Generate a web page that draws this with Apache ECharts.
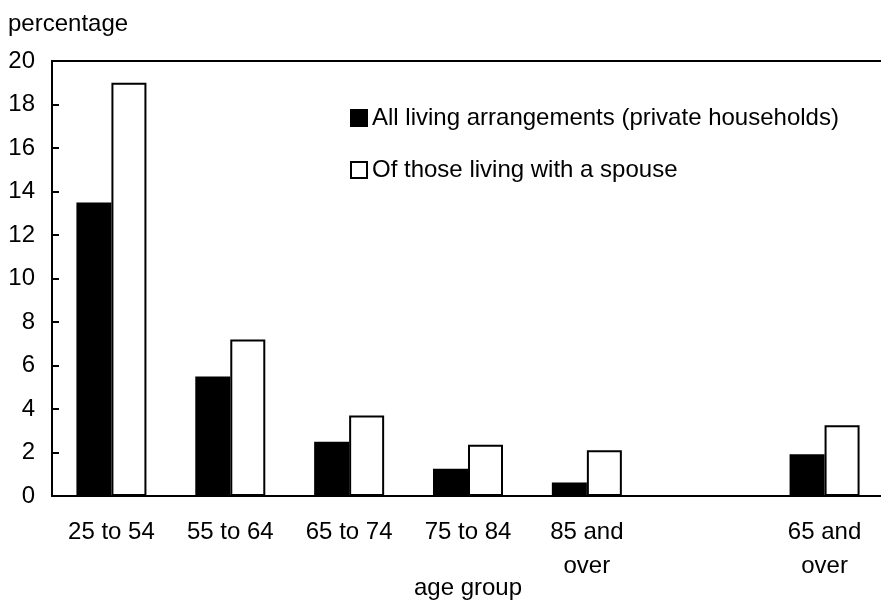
<!DOCTYPE html>
<html>
<head>
<meta charset="utf-8">
<script src="https://cdn.jsdelivr.net/npm/echarts@6/dist/echarts.min.js"></script>
<style>html,body{margin:0;padding:0;background:#fff;}#c{width:881px;height:600px;}</style>
</head>
<body>
<div id="c"></div>
<script>
const categories = ['25 to 54', '55 to 64', '65 to 74', '75 to 84', '85 and\nover', '', '65 and\nover'];
const allLiving = [13.5, 5.5, 2.5, 1.25, 0.62, null, 1.92];
const withSpouse = [19.0, 7.2, 3.7, 2.36, 2.1, null, 3.25];
const yTicks = [0, 2, 4, 6, 8, 10, 12, 14, 16, 18, 20];
const seriesNames = ['All living arrangements (private households)', 'Of those living with a spouse'];

const font = 'Liberation Sans, Arial, sans-serif';
const chart = echarts.init(document.getElementById('c'), null, {renderer: 'canvas'});
chart.setOption({
  animation: false,
  backgroundColor: '#ffffff',
  title: {
    text: 'percentage', left: 8, top: 12, padding: 0,
    textStyle: {fontFamily: font, fontSize: 24, fontWeight: 'normal', color: '#000'}
  },
  legend: {
    orient: 'vertical', left: 350, top: 106, itemGap: 28, padding: 0,
    itemWidth: 16, itemHeight: 16, itemStyle: {borderColor: '#000', borderWidth: 2},
    icon: 'rect',
    textStyle: {fontFamily: font, fontSize: 24, color: '#000'},
    data: seriesNames
  },
  grid: {left: 52, right: -3, top: 61, bottom: 104, containLabel: false, outerBoundsMode: 'none'},
  xAxis: [{
    type: 'category', data: categories, position: 'bottom',
    name: 'age group', nameLocation: 'middle', nameGap: 80, nameMoveOverlap: false,
    nameTextStyle: {fontFamily: font, fontSize: 24, color: '#000', verticalAlign: 'top'},
    axisLine: {lineStyle: {color: '#000', width: 2}},
    axisTick: {show: false},
    axisLabel: {fontFamily: font, fontSize: 24, color: '#000', lineHeight: 34, margin: 19, interval: 0}
  }, {
    type: 'category', data: categories, position: 'top',
    axisLine: {lineStyle: {color: '#000', width: 2}},
    axisTick: {show: false}, axisLabel: {show: false}
  }],
  yAxis: {
    type: 'value', min: yTicks[0], max: yTicks[yTicks.length - 1], interval: 2,
    axisLine: {show: true, lineStyle: {color: '#000', width: 2}},
    axisTick: {show: true, inside: true, length: 7, lineStyle: {color: '#000', width: 2}},
    axisLabel: {fontFamily: font, fontSize: 24, color: '#000', margin: 17},
    splitLine: {show: false}
  },
  series: [{
    name: seriesNames[0], type: 'bar', data: allLiving, barWidth: 35, barGap: '0%',
    itemStyle: {color: '#000', borderColor: '#000', borderWidth: 2}
  }, {
    name: seriesNames[1], type: 'bar', data: withSpouse, barWidth: 35, barGap: '0%',
    itemStyle: {color: '#fff', borderColor: '#000', borderWidth: 2}
  }]
});
</script>
</body>
</html>
